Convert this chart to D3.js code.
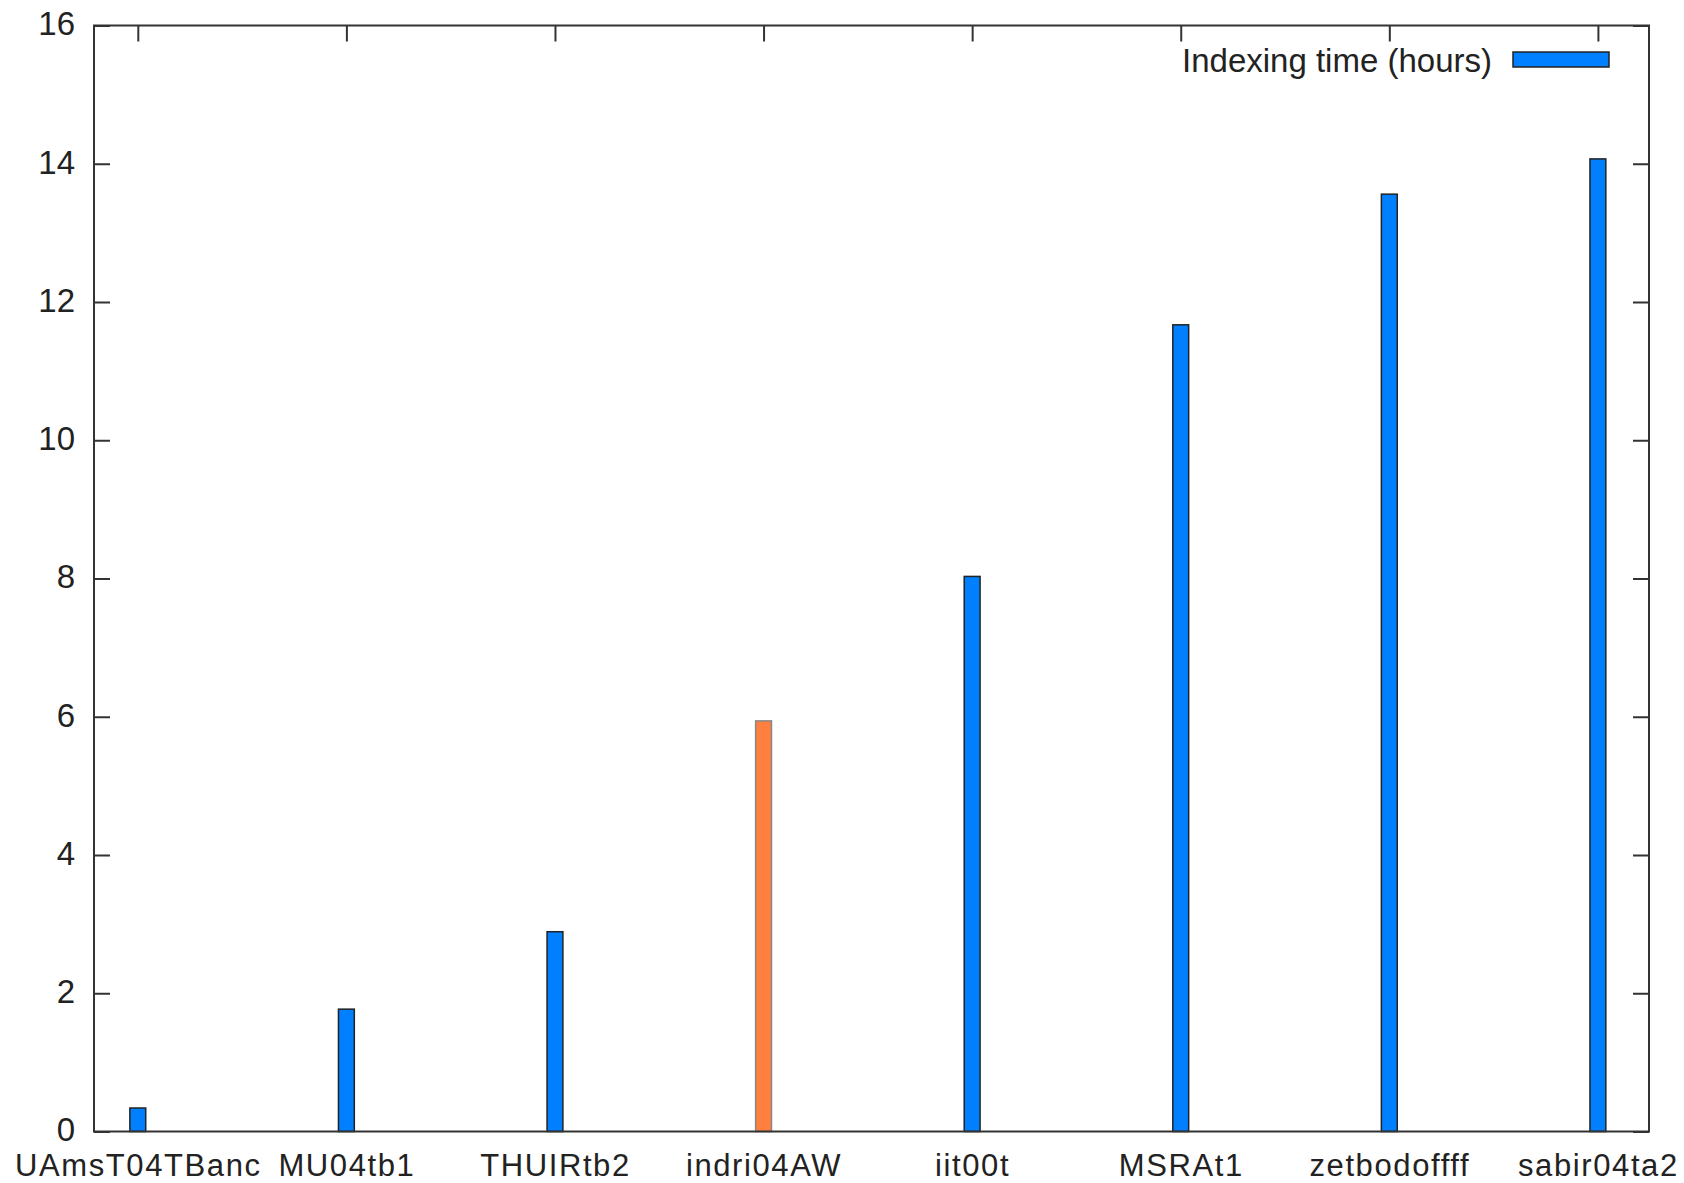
<!DOCTYPE html>
<html>
<head>
<meta charset="utf-8">
<script src="https://cdn.jsdelivr.net/npm/d3@7"></script>
<style>
    body { margin: 0; background: #fff; }
    svg text { font-family: "Liberation Sans", Arial, sans-serif; fill: #222; }
</style>
</head>
<body>
<svg id="chart"></svg>
<script>
// data
const runs = ['UAmsT04TBanc', 'MU04tb1', 'THUIRtb2', 'indri04AW', 'iit00t', 'MSRAt1', 'zetbodoffff', 'sabir04ta2'];
const hours = [0.34, 1.77, 2.89, 5.94, 8.03, 11.67, 13.56, 14.07];
const highlighted = ['indri04AW'];
const yTicks = [0, 2, 4, 6, 8, 10, 12, 14, 16];
const legendLabel = 'Indexing time (hours)';

const width = 1684, height = 1183;
const frame = { left: 94, right: 1649, top: 25.5, bottom: 1131.5 };
const blue = '#0080ff', orange = '#ff7f3f';

const svg = d3.select('#chart')
    .attr('width', width)
    .attr('height', height);

const x = d3.scaleLinear()
    .domain([-0.21, runs.length - 1 + 0.245])
    .range([frame.left, frame.right]);

const y = d3.scaleLinear()
    .domain([0, 16])
    .range([frame.bottom, frame.top]);

const barHalf = 0.038;

// axes with inward ticks, mirrored on the top and right
const tickLen = 16;
const styleAxis = (g, size) => {
    g.select('.domain').remove();
    g.selectAll('line').style('stroke', '#333').style('stroke-width', 2);
    g.selectAll('text').style('font-size', size + 'px').style('fill', '#222');
};

svg.append('g')
    .attr('transform', `translate(${frame.left},0)`)
    .call(d3.axisLeft(y).tickValues(yTicks).tickSize(-tickLen).tickPadding(19))
    .call(g => styleAxis(g, 33))
    .call(g => g.selectAll('text').attr('dy', '0.28em'));

svg.append('g')
    .attr('transform', `translate(${frame.right},0)`)
    .call(d3.axisRight(y).tickValues(yTicks).tickSize(-tickLen).tickFormat(''))
    .call(g => styleAxis(g, 33));

svg.append('g')
    .attr('transform', `translate(0,${frame.bottom})`)
    .call(d3.axisBottom(x).tickValues(d3.range(runs.length)).tickSize(-tickLen).tickPadding(22.8)
        .tickFormat(i => runs[i]))
    .call(g => styleAxis(g, 31))
    .call(g => g.selectAll('text').style('letter-spacing', '1.6px'));

svg.append('g')
    .attr('transform', `translate(0,${frame.top})`)
    .call(d3.axisTop(x).tickValues(d3.range(runs.length)).tickSize(-tickLen).tickFormat(''))
    .call(g => styleAxis(g, 33));

// bars, drawn over the bottom ticks
svg.append('g')
    .selectAll('rect')
    .data(runs)
    .enter()
    .append('rect')
    .attr('x', (d, i) => x(i - barHalf))
    .attr('width', (d, i) => x(i + barHalf) - x(i - barHalf))
    .attr('y', (d, i) => y(hours[i]))
    .attr('height', (d, i) => y(0) - y(hours[i]))
    .style('fill', d => highlighted.includes(d) ? orange : blue)
    .style('stroke', d => highlighted.includes(d) ? '#888' : '#222')
    .style('stroke-width', 1.5);

// frame
svg.append('rect')
    .attr('x', frame.left)
    .attr('y', frame.top)
    .attr('width', frame.right - frame.left)
    .attr('height', frame.bottom - frame.top)
    .style('fill', 'none')
    .style('stroke', '#333')
    .style('stroke-width', 2);

// legend
const legend = svg.append('g');
legend.append('text')
    .attr('x', 1492)
    .attr('y', 60)
    .attr('dy', '0.35em')
    .attr('text-anchor', 'end')
    .style('font-size', '33px')
    .text(legendLabel);
legend.append('rect')
    .attr('x', 1513)
    .attr('y', 52)
    .attr('width', 96)
    .attr('height', 15)
    .style('fill', blue)
    .style('stroke', '#222')
    .style('stroke-width', 1.5);
</script>
</body>
</html>
